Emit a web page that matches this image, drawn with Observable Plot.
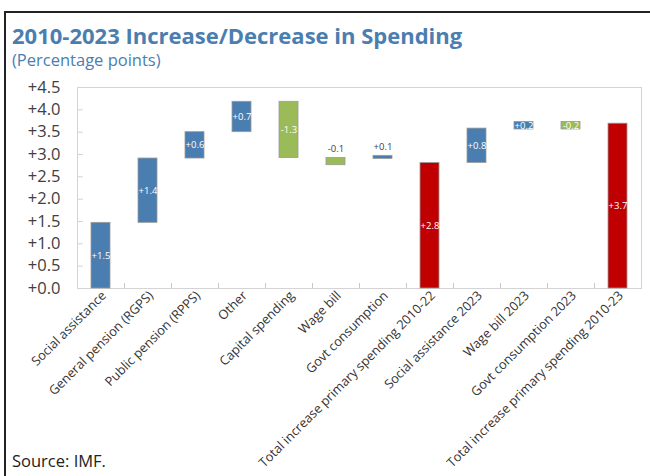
<!DOCTYPE html>
<html><head><meta charset="utf-8">
<script src="https://cdn.jsdelivr.net/npm/d3@7"></script>
<script src="https://cdn.jsdelivr.net/npm/@observablehq/plot@0.6"></script>
<style>
body{margin:0;background:#fff;}
#wrap{position:relative;width:650px;height:476px;overflow:hidden;font-family:"Open Sans",sans-serif;}
#border{position:absolute;left:4px;top:11px;width:700px;height:500px;border-left:2px solid #222;border-top:2px solid #222;}
#title{position:absolute;left:12px;top:19.5px;font-size:22px;line-height:30px;font-weight:700;color:#4a7eb0;white-space:nowrap;}
#subtitle{position:absolute;left:12px;top:48px;font-size:16.5px;color:#4a7eb0;white-space:nowrap;}
#chart{position:absolute;left:0;top:75px;}
#source{position:absolute;left:12px;top:449px;font-size:16.5px;color:#222;white-space:nowrap;}
</style>
</head><body>
<div id="wrap">
  <div id="border"></div>
  <div id="title">2010-2023 Increase/Decrease in Spending</div>
  <div id="subtitle">(Percentage points)</div>
  <div id="chart"></div>
  <div id="source">Source: IMF.</div>
</div>
<script>
const categories = ["Social assistance","General pension (RGPS)","Public pension (RPPS)","Other","Capital spending","Wage bill","Govt consumption","Total increase primary spending 2010-22","Social assistance 2023","Wage bill 2023","Govt consumption 2023","Total increase primary spending 2010-23"];
const barStart = [0, 1.47, 2.91, 3.50, 4.18, 2.92, 2.90, 0, 2.81, 3.56, 3.73, 0];
const barEnd   = [1.47, 2.91, 3.50, 4.18, 2.92, 2.76, 2.97, 2.81, 3.58, 3.73, 3.56, 3.69];
const valueLabels = ["+1.5","+1.4","+0.6","+0.7","-1.3","-0.1","+0.1","+2.8","+0.8","+0.2","-0.2","+3.7"];
const kinds = ["increase","increase","increase","increase","decrease","decrease","increase","total","increase","increase","decrease","total"];
const yTicks = [0,0.5,1,1.5,2,2.5,3,3.5,4,4.5];
const labelsAbove = ["Wage bill","Govt consumption"];

const data = categories.map((c,i)=>({cat:c,start:barStart[i],end:barEnd[i],label:valueLabels[i],kind:kinds[i]}));
const colors = {increase:"#4a7eb0", decrease:"#9bbb59", total:"#c00000"};
const bw = (650-77-9)/categories.length;

const plot = Plot.plot({
  width:650, height:401,
  marginLeft:77, marginRight:9, marginTop:12, marginBottom:188,
  style:{fontFamily:"'Open Sans', sans-serif", color:"#404040", overflow:"visible", background:"transparent"},
  x:{domain:categories, padding:0, axis:null, label:null},
  y:{domain:[0,4.5], axis:null, label:null},
  marks:[
    Plot.frame({stroke:"#d4d4d4"}),
    Plot.axisY(yTicks, {anchor:"left", label:null, tickSize:-6, tickPadding:23, stroke:"#d4d4d4", fill:"#404040", fontSize:16.5, tickFormat:d=>"+"+d3.format(".1f")(d)}),
    Plot.axisX(categories.slice(1), {anchor:"bottom", label:null, tickSize:-5, dx:-bw/2, text:null, stroke:"#c8c8c8"}),
    Plot.axisX(categories, {anchor:"bottom", label:null, tickSize:0, tickPadding:5, tickRotate:-45, fontSize:12.8, fill:"#333", dx:3}),
    Plot.barY(data, {x:"cat", y1:"start", y2:"end", fill:d=>colors[d.kind], stroke:"#9a9a9a", strokeWidth:0.8, insetLeft:14, insetRight:14}),
    Plot.text(data.filter(d=>!labelsAbove.includes(d.cat)), {x:"cat", y:d=>(d.start+d.end)/2, text:"label", fill:"white", fontSize:9.5}),
    Plot.text(data.filter(d=>labelsAbove.includes(d.cat)), {x:"cat", y:d=>Math.max(d.start,d.end), text:"label", fill:"#404040", fontSize:9.5, dy:-9})
  ]
});
document.getElementById("chart").appendChild(plot);
</script>
</body></html>
